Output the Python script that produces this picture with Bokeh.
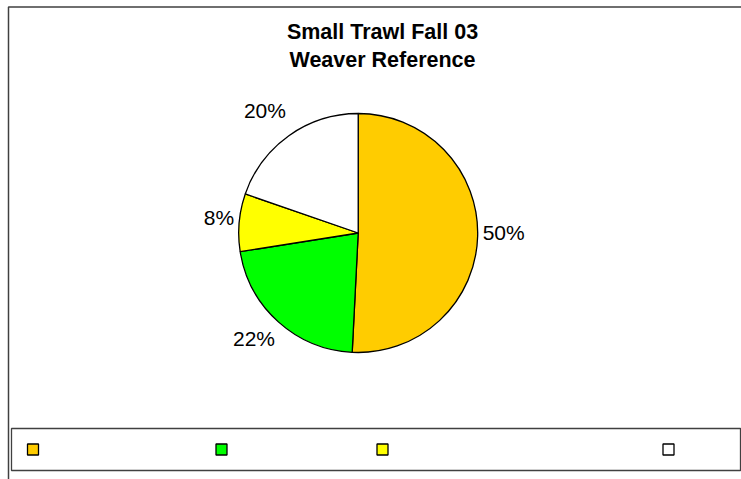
import numpy as np
from bokeh.plotting import figure
from bokeh.models import ColumnDataSource, Range1d, Label
from bokeh.core.properties import value
from bokeh.embed import file_html
from bokeh.resources import INLINE

# ---- data ----
title_lines = ["Small Trawl Fall 03", "Weaver Reference"]
categories = ["A", "B", "C", "D"]          # legend labels are blank in the original
shares = [50.8, 21.7, 7.8, 19.7]           # slice sizes in percent
pct_labels = ["50%", "22%", "8%", "20%"]
colors = ["#FFCC00", "#00FF00", "#FFFF00", "#FFFFFF"]

W, H = 741, 479
p = figure(width=W, height=H, x_range=Range1d(0, W), y_range=Range1d(0, H),
           output_backend="svg", toolbar_location=None,
           x_axis_location=None, y_axis_location=None, min_border=0)
p.grid.visible = False
p.outline_line_color = None
p.background_fill_color = "white"
p.border_fill_color = "white"

# outer chart frame (only left and top edges fall inside the window)
p.quad(left=8, right=W + 20, bottom=-20, top=H - 6.5, fill_color=None,
       line_color="#404040", line_width=1.5)

# ---- pie ----
cx, cy, r = 357.7, 246.5, 119.5
vals = np.array(shares, dtype=float)
frac = vals / vals.sum()
c1 = np.cumsum(frac)
c0 = c1 - frac
start = np.pi / 2 - 2 * np.pi * c0
end = np.pi / 2 - 2 * np.pi * c1
src = ColumnDataSource(dict(start=start, end=end, color=colors, cat=categories))
p.wedge(x=cx, y=cy, radius=r, start_angle="start", end_angle="end", direction="clock",
        fill_color="color", line_color="black", line_width=1.3, source=src)

# ---- percent labels ----
mid = 2 * np.pi * (c0 + c1) / 2          # clockwise from top
dx = np.sin(mid)
dy = np.cos(mid)                          # upward component
lr = r + 5
aligns = ["left" if d > 0.3 else ("right" if d < -0.3 else "center") for d in dx]
bases = ["bottom" if d > 0.3 else ("top" if d < -0.3 else "middle") for d in dy]
lsrc = ColumnDataSource(dict(x=cx + lr * dx, y=cy + lr * dy + 4 + 7 * dy, t=pct_labels,
                             a=aligns, b=bases))
p.text(x="x", y="y", text="t", text_align="a", text_baseline="b", source=lsrc,
       text_font=value("Liberation Sans"), text_font_size="21px", text_color="black")

# ---- title ----
for i, line in enumerate(title_lines):
    p.add_layout(Label(x=382, y=447.5 - 27.5 * i, text=line, text_align="center",
                       text_baseline="alphabetic", text_font="Liberation Sans",
                       text_font_size="21.5px", text_font_style="bold", text_color="black"))

# ---- legend (blank labels, boxes only) ----
p.quad(left=11, right=740, bottom=9, top=51, fill_color="white",
       line_color="#404040", line_width=1.3)
leg_x = [32.5, 221, 382, 668]
p.rect(x=leg_x, y=30, width=11, height=11, fill_color=colors,
       line_color="black", line_width=1.3)

open("out.html", "w").write(file_html(p, INLINE))
